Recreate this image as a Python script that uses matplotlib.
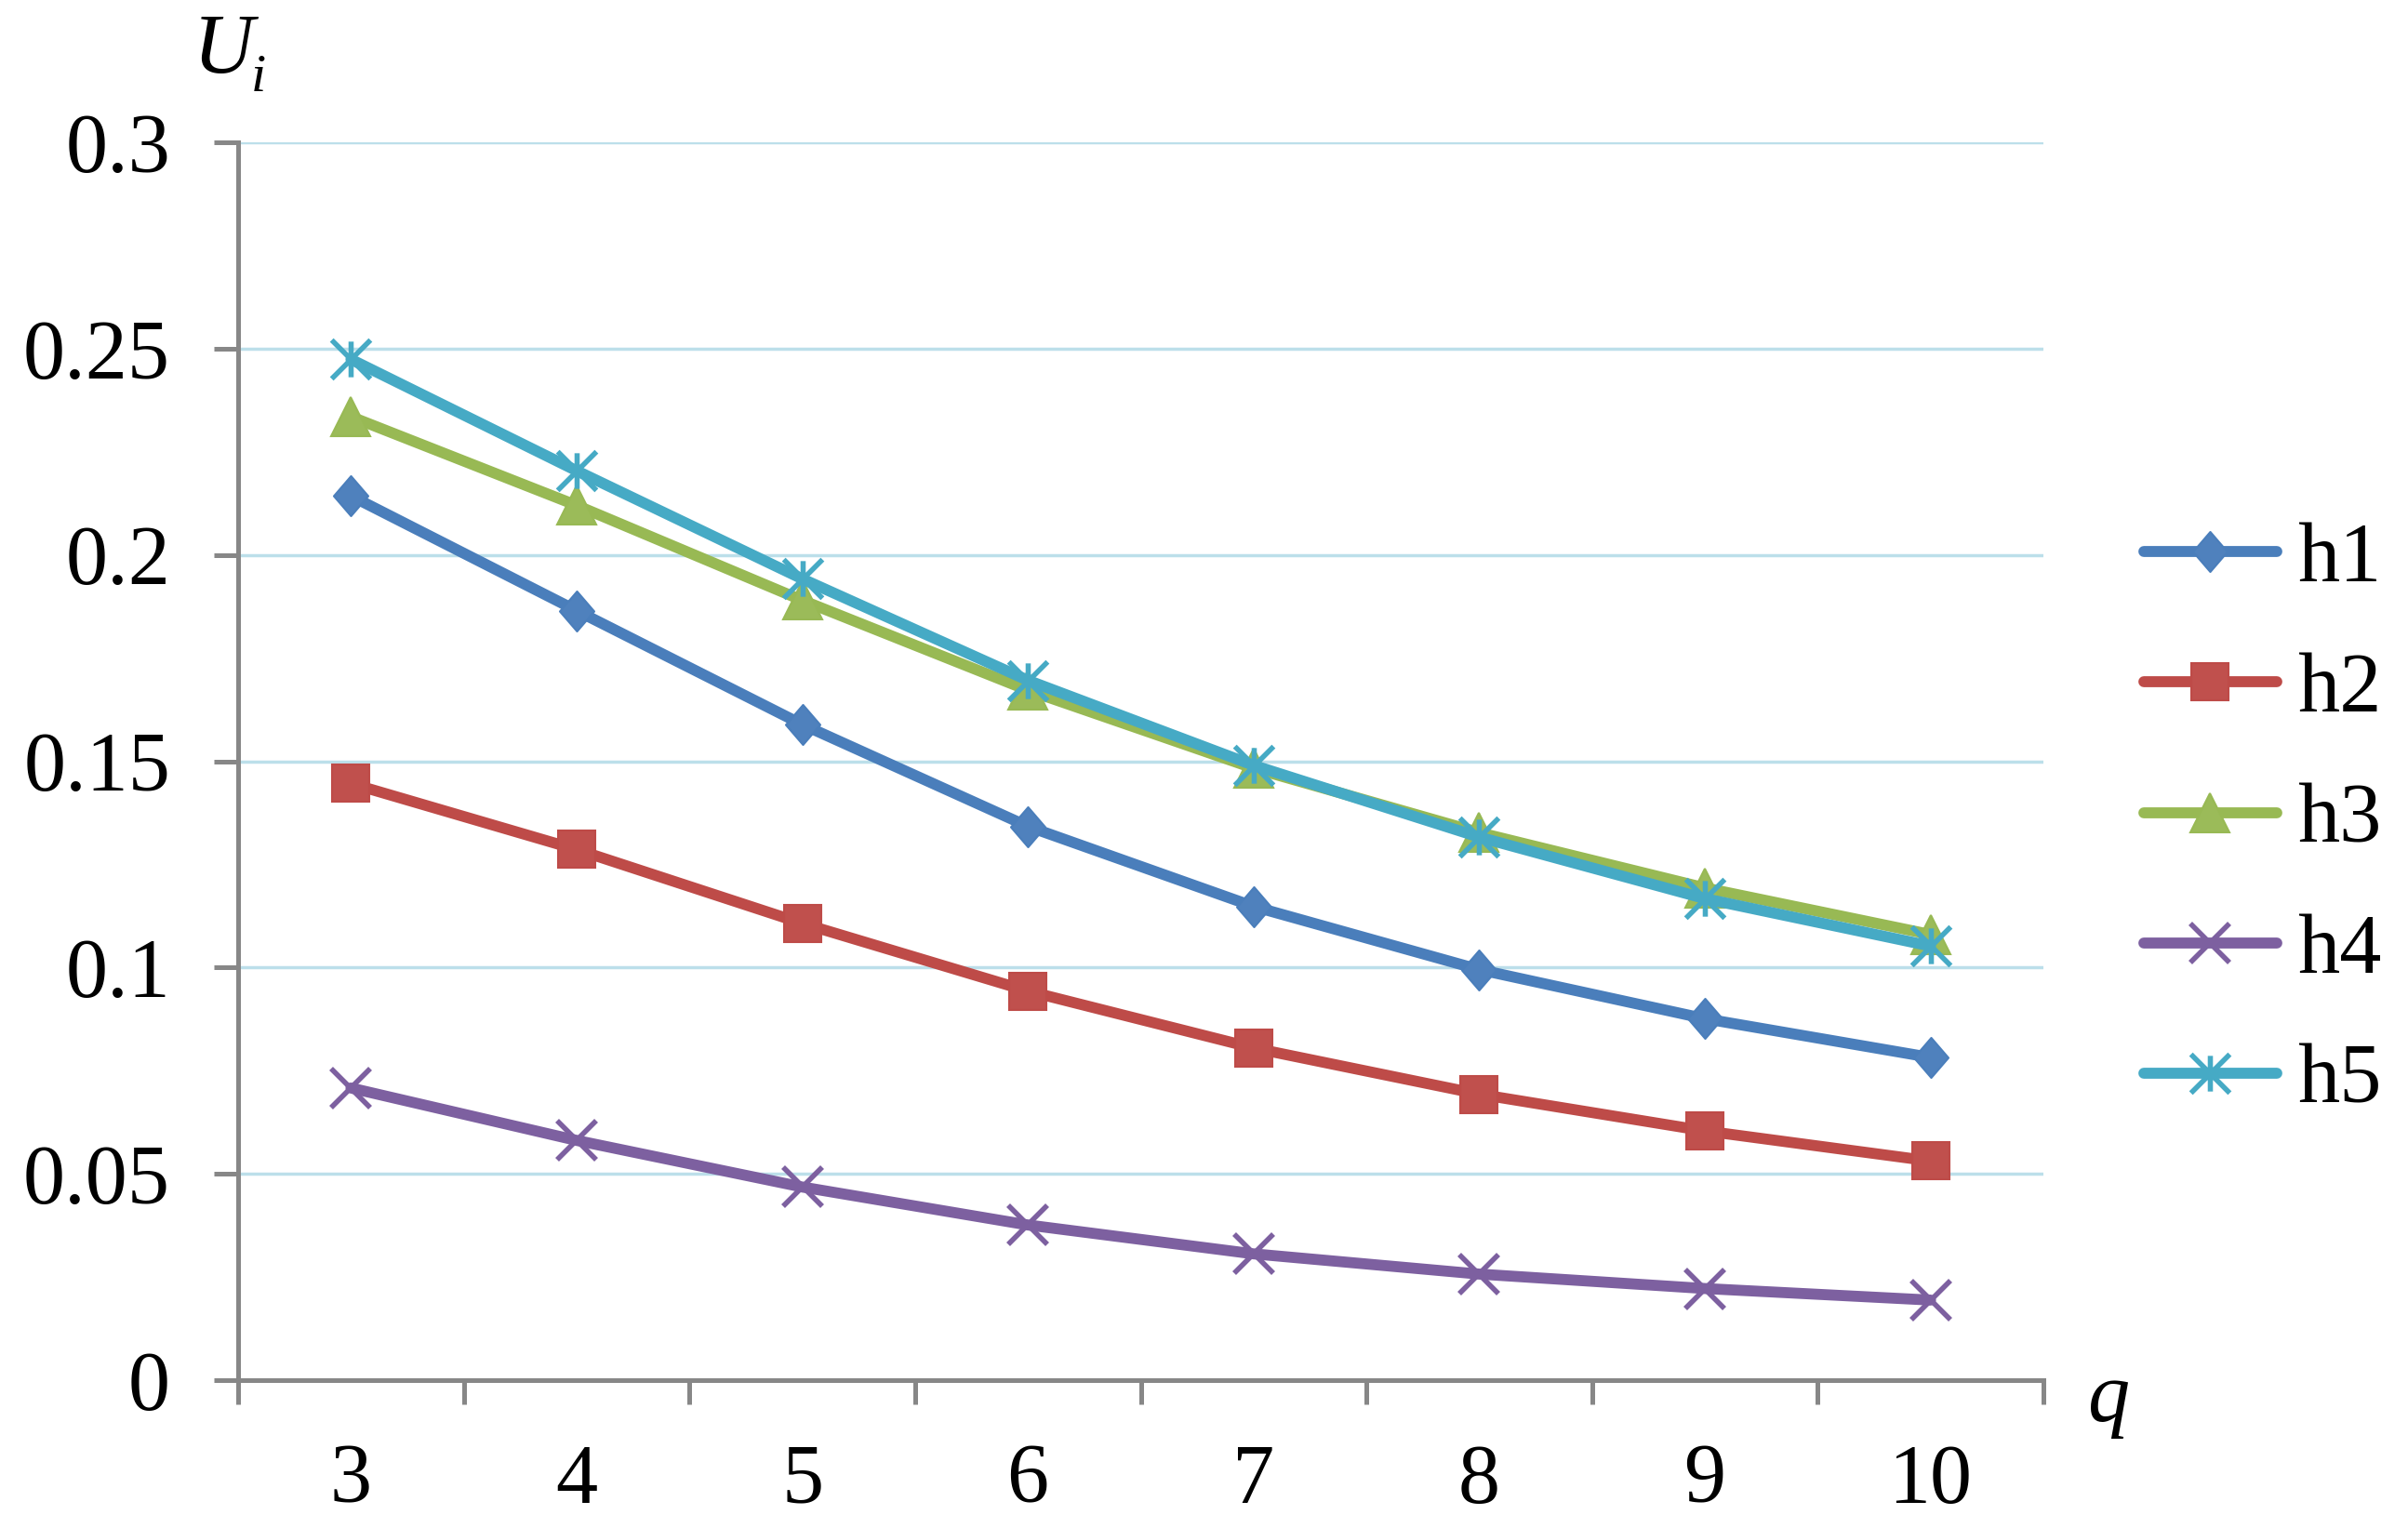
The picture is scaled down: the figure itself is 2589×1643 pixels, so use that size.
import numpy as np
import matplotlib.pyplot as plt
from matplotlib.path import Path

plt.rcParams['font.family'] = 'Liberation Serif'

q_values = [3, 4, 5, 6, 7, 8, 9, 10]
h1 = [0.2143, 0.1865, 0.1589, 0.1342, 0.1148, 0.0995, 0.0876, 0.0782]
h2 = [0.1446, 0.1286, 0.1107, 0.0943, 0.0805, 0.0693, 0.0604, 0.0531]
h3 = [0.2335, 0.2120, 0.1890, 0.1672, 0.1483, 0.1327, 0.1193, 0.1080]
h4 = [0.0708, 0.0581, 0.0468, 0.0376, 0.0306, 0.0257, 0.0222, 0.0194]
h5 = [0.2474, 0.2204, 0.1942, 0.1696, 0.1490, 0.1316, 0.1167, 0.1052]
labels = ['h1', 'h2', 'h3', 'h4', 'h5']
y_ticks = [0, 0.05, 0.1, 0.15, 0.2, 0.25, 0.3]
y_tick_labels = ['0', '0.05', '0.1', '0.15', '0.2', '0.25', '0.3']

colors = ['#4A7EBB', '#BE4B48', '#98B954', '#7D60A0', '#46AAC5']
faces = ['#4F81BD', '#C0504D', '#9BBB59', '#8064A2', '#4BACC6']

diamond = Path([(0, 1), (0.86, 0), (0, -1), (-0.86, 0), (0, 1)],
               [Path.MOVETO, Path.LINETO, Path.LINETO, Path.LINETO, Path.CLOSEPOLY])
asterisk = Path([(-1, -1), (1, 1), (-1, 1), (1, -1), (0, -0.92), (0, 0.92)],
                [Path.MOVETO, Path.LINETO, Path.MOVETO, Path.LINETO, Path.MOVETO, Path.LINETO])

styles = [
    dict(marker=diamond, markersize=31, markeredgewidth=1.5),
    dict(marker='s', markersize=29, markeredgewidth=1.5),
    dict(marker='^', markersize=30, markeredgewidth=1.5),
    dict(marker='x', markersize=30, markeredgewidth=4),
    dict(marker=asterisk, markersize=30, markeredgewidth=4),
]

fig = plt.figure(figsize=(25.89, 16.43), dpi=100)
ax = fig.add_axes([256 / 2589, 1 - 1484 / 1643, (2197 - 256) / 2589, (1484 - 153) / 1643])

x = np.arange(len(q_values)) + 0.5
for series, label, color, face, st in zip([h1, h2, h3, h4, h5], labels, colors, faces, styles):
    ax.plot(x, series, color=color, linewidth=8.5, label=label,
            markerfacecolor=face, markeredgecolor=color,
            solid_capstyle='round', solid_joinstyle='round', **st)

ax.set_xlim(0, len(q_values))
ax.set_ylim(0, 0.3)
ax.set_xticks(np.arange(len(q_values) + 1))
ax.set_xticklabels([])
ax.set_xticks(x, minor=True)
ax.set_xticklabels([str(v) for v in q_values], minor=True)
ax.set_yticks(y_ticks)
ax.set_yticklabels(y_tick_labels)

gray = '#878787'
for side in ['top', 'right']:
    ax.spines[side].set_visible(False)
for side in ['left', 'bottom']:
    ax.spines[side].set_color(gray)
    ax.spines[side].set_linewidth(3.6)

ax.tick_params(axis='both', which='major', direction='out', length=18.5, width=3.6,
               color=gray, labelsize=65)
ax.tick_params(axis='x', which='minor', length=0, labelsize=65, pad=49)
ax.tick_params(axis='y', which='major', pad=34)

ax.set_axisbelow(True)
ax.yaxis.grid(True, color='#BCDFEA', linestyle='-', linewidth=2.5)

# axis titles
fig.text(208 / 2589, 1 - 78 / 1643, 'U', fontsize=65, style='italic', ha='left', va='baseline')
fig.text(270 / 2589, 1 - 98 / 1643, 'i', fontsize=42, style='italic', ha='left', va='baseline')
fig.text(2245 / 2589, 1 - 1528 / 1643, 'q', fontsize=65, style='italic', ha='left', va='baseline')

fig.legend(loc='center left', bbox_to_anchor=(2305 / 2589, 1 - 883 / 1643), frameon=False,
           fontsize=65, handlelength=1.58, handletextpad=0.25, labelspacing=0.64,
           borderpad=0, borderaxespad=0)

fig.savefig('out.png', dpi=100)
